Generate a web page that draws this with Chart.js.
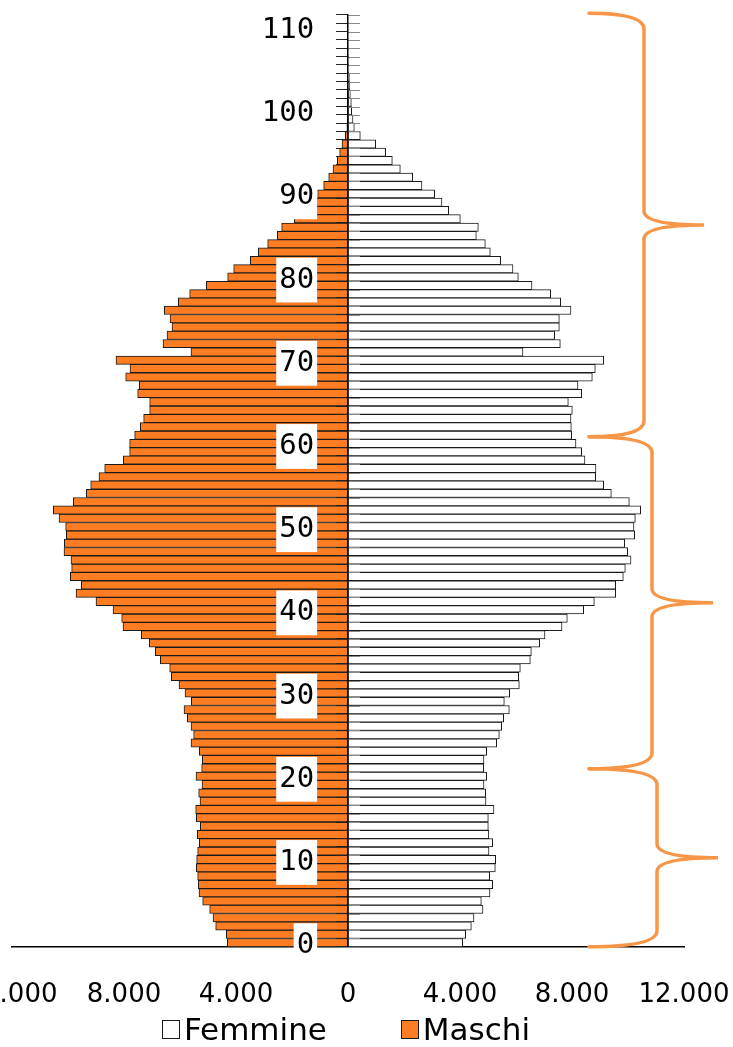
<!DOCTYPE html>
<html lang="it">
<head>
<meta charset="utf-8">
<title>Piramide delle età</title>
<script src="https://cdn.jsdelivr.net/npm/chart.js@4/dist/chart.umd.min.js"></script>
<style>
    html, body { margin: 0; padding: 0; background: #ffffff; }
    #wrap { width: 733px; height: 1047px; position: relative; }
    #legend {
        position: absolute; top: 1014px; left: 0; width: 692px;
        display: flex; justify-content: center; gap: 74px;
        list-style: none; margin: 0; padding: 0;
        font-family: 'DejaVu Sans'; font-size: 31px; line-height: 31px; color: #000;
    }
    #legend li { display: flex; align-items: center; gap: 4px; }
    #legend .box { width: 16px; height: 17px; border: 1px solid #1a1a1a; }
</style>
</head>
<body>
<div id="wrap">
    <canvas id="pyramid"></canvas>
    <ul id="legend"></ul>
</div>
<script>
// età 0..111
const AGES = Array.from({ length: 112 }, (_, i) => String(i));
const AGE_TICK_LABELS = ['0', '10', '20', '30', '40', '50', '60', '70', '80', '90', '100', '110'];

// residenti per singolo anno di età
const MASCHI = [
    4310, 4345, 4726, 4821, 4940, 5190, 5321, 5345, 5369, 5417,
    5405, 5369, 5310, 5381, 5274, 5417, 5440, 5286, 5333, 5214,
    5429, 5226, 5202, 5310, 5607, 5512, 5607, 5738, 5857, 5595,
    5821, 6036, 6310, 6369, 6702, 6881, 7095, 7381, 8036, 8083,
    8393, 9000, 9714, 9524, 9917, 9869, 9893, 10143, 10131, 10060,
    10083, 10321, 10524, 9810, 9345, 9190, 8893, 8690, 8024, 7798,
    7798, 7619, 7417, 7298, 7083, 7083, 7512, 7452, 7940, 7786,
    8286, 5607, 6607, 6464, 6286, 6357, 6560, 6060, 5655, 5060,
    4298, 4083, 3488, 3202, 2869, 2524, 2369, 1917, 1550, 1300,
    1083, 869, 690, 536, 381, 298, 214, 95, 40, 25,
    15, 8, 4, 0, 0, 0, 0, 0, 0, 0,
    0, 0,
];

const FEMMINE = [
    4095, 4202, 4405, 4500, 4821, 4762, 5071, 5167, 5060, 5262,
    5274, 5036, 5167, 5030, 5012, 5012, 5214, 4929, 4917, 4857,
    4952, 4845, 4857, 4952, 5310, 5405, 5488, 5560, 5762, 5583,
    5774, 6119, 6095, 6155, 6512, 6548, 6845, 7036, 7643, 7833,
    8417, 8798, 9560, 9560, 9833, 9905, 10107, 9988, 9881, 10238,
    10214, 10262, 10452, 10048, 9405, 9131, 8845, 8857, 8464, 8345,
    8143, 7988, 7976, 7964, 8012, 7869, 8345, 8214, 8726, 8833,
    9131, 6250, 7583, 7381, 7548, 7548, 7964, 7595, 7238, 6571,
    6083, 5893, 5452, 5083, 4905, 4583, 4655, 4012, 3595, 3357,
    3095, 2643, 2310, 1869, 1583, 1345, 988, 440, 226, 179,
    131, 119, 83, 60, 50, 30, 18, 10, 5, 2,
    0, 0,
];

const X_TICK_VALUES = [-12000, -8000, -4000, 0, 4000, 8000, 12000];
const X_TICK_LABELS = ['12.000', '8.000', '4.000', '0', '4.000', '8.000', '12.000'];

// parentesi graffe a destra: intervalli di età coperti (dal basso)
const BRACE_RANGES = [[0, 21.4], [21.4, 61.3], [61.3, 112.2]];

const COLORS = {
    orange: '#FF7D22',
    ink: '#1a1a1a',
    tick: '#222222',
    brace: '#F79646',
};

// trattini dell'asse verso destra (in grigio), come nell'originale
const crossTicks = {
    id: 'crossTicks',
    afterDatasetsDraw(chart) {
        const { ctx, scales: { x, y } } = chart;
        const x0 = x.getPixelForValue(0);
        ctx.save();
        ctx.strokeStyle = '#8a8a8a';
        ctx.lineWidth = 1;
        for (let i = 0; i <= AGES.length; i++) {
            const py = Math.round(y.getPixelForValue(i - 0.5)) + 0.5;
            ctx.beginPath();
            ctx.moveTo(x0, py);
            ctx.lineTo(x0 + 12, py);
            ctx.stroke();
        }
        ctx.restore();
    },
};

const braces = {
    id: 'braces',
    afterDraw(chart) {
        const { ctx, scales: { y } } = chart;
        const xEnd = 589;
        const spines = [657, 652, 644];
        const tips = [718, 713, 704];
        ctx.save();
        ctx.strokeStyle = COLORS.brace;
        ctx.lineWidth = 3.5;
        ctx.lineCap = 'round';
        BRACE_RANGES.forEach(([from, to], i) => {
            const yBottom = y.getPixelForValue(from - 0.5);
            const yTop = y.getPixelForValue(to - 0.5);
            const yMid = (yTop + yBottom) / 2;
            const spine = spines[i];
            const tip = tips[i];
            ctx.beginPath();
            ctx.moveTo(xEnd, yTop);
            ctx.quadraticCurveTo(spine, yTop, spine, yTop + 16);
            ctx.lineTo(spine, yMid - 14);
            ctx.quadraticCurveTo(spine, yMid, tip, yMid);
            ctx.quadraticCurveTo(spine, yMid, spine, yMid + 14);
            ctx.lineTo(spine, yBottom - 16);
            ctx.quadraticCurveTo(spine, yBottom, xEnd, yBottom);
            ctx.stroke();
        });
        ctx.restore();
    },
};

// legenda HTML costruita dalle voci generate da Chart.js
const htmlLegend = {
    id: 'htmlLegend',
    afterUpdate(chart) {
        const list = document.getElementById('legend');
        list.innerHTML = '';
        Chart.defaults.plugins.legend.labels.generateLabels(chart).forEach((item) => {
            const li = document.createElement('li');
            const box = document.createElement('span');
            box.className = 'box';
            box.style.background = item.fillStyle;
            box.style.borderColor = item.strokeStyle;
            const text = document.createElement('span');
            text.textContent = item.text;
            li.append(box, text);
            list.appendChild(li);
        });
    },
};

const isLabelled = (index) => AGE_TICK_LABELS.includes(AGES[index]);

new Chart(document.getElementById('pyramid'), {
    type: 'bar',
    data: {
        labels: AGES,
        datasets: [
            {
                label: 'Femmine',
                data: FEMMINE,
                backgroundColor: '#ffffff',
                borderColor: COLORS.ink,
                borderWidth: 1,
                borderSkipped: false,
                barPercentage: 1,
                categoryPercentage: 1,
            },
            {
                label: 'Maschi',
                data: MASCHI.map((v) => -v),
                backgroundColor: COLORS.orange,
                borderColor: COLORS.ink,
                borderWidth: 1,
                borderSkipped: false,
                barPercentage: 1,
                categoryPercentage: 1,
            },
        ],
    },
    options: {
        indexAxis: 'y',
        responsive: true,
        maintainAspectRatio: false,
        animation: false,
        layout: {
            padding: { left: 12, right: 49, top: 15, bottom: 3 },
        },
        plugins: {
            legend: { display: false },
            tooltip: { enabled: false },
        },
        scales: {
            x: {
                type: 'linear',
                stacked: true,
                min: -12000,
                max: 12000,
                afterBuildTicks(scale) {
                    scale.ticks = X_TICK_VALUES.map((value) => ({ value }));
                },
                afterFit(scale) {
                    scale.paddingLeft = 0;
                    scale.paddingRight = 0;
                },
                ticks: {
                    color: '#000000',
                    font: { family: 'DejaVu Sans', size: 26, lineHeight: 1.2 },
                    padding: 33,
                    maxRotation: 0,
                    callback(value, index) {
                        return X_TICK_LABELS[index];
                    },
                },
                grid: { display: false, drawTicks: false },
                border: { display: true, color: '#000000', width: 1.5 },
            },
            y: {
                type: 'category',
                stacked: true,
                reverse: true,
                position: { x: 0 },
                afterFit(scale) {
                    scale.paddingTop = 0;
                    scale.paddingBottom = 0;
                },
                ticks: {
                    autoSkip: false,
                    callback: () => '',
                },
                grid: {
                    drawOnChartArea: false,
                    drawTicks: true,
                    tickLength: 11,
                    color: COLORS.tick,
                    lineWidth: 1,
                    z: 1,
                },
                border: { display: true, color: '#000000', width: 1.5, z: 1 },
            },
            // asse solo per le etichette delle età, spostato a sinistra dell'asse centrale
            yLab: {
                axis: 'y',
                type: 'category',
                labels: AGES,
                reverse: true,
                offset: true,
                position: { x: -1210 },
                afterFit(scale) {
                    scale.paddingTop = 0;
                    scale.paddingBottom = 0;
                },
                ticks: {
                    autoSkip: false,
                    color: '#000000',
                    font: { family: 'DejaVu Sans Mono', size: 29 },
                    labelOffset: 3,
                    z: 2,
                    showLabelBackdrop: (ctx) => isLabelled(ctx.index),
                    backdropColor: '#ffffff',
                    backdropPadding: { x: 3, y: 5 },
                    callback(value, index) {
                        return isLabelled(index) ? AGES[index] : '';
                    },
                },
                grid: { display: false, drawTicks: false },
                border: { display: false },
            },
        },
    },
    plugins: [crossTicks, braces, htmlLegend],
});
</script>
</body>
</html>
